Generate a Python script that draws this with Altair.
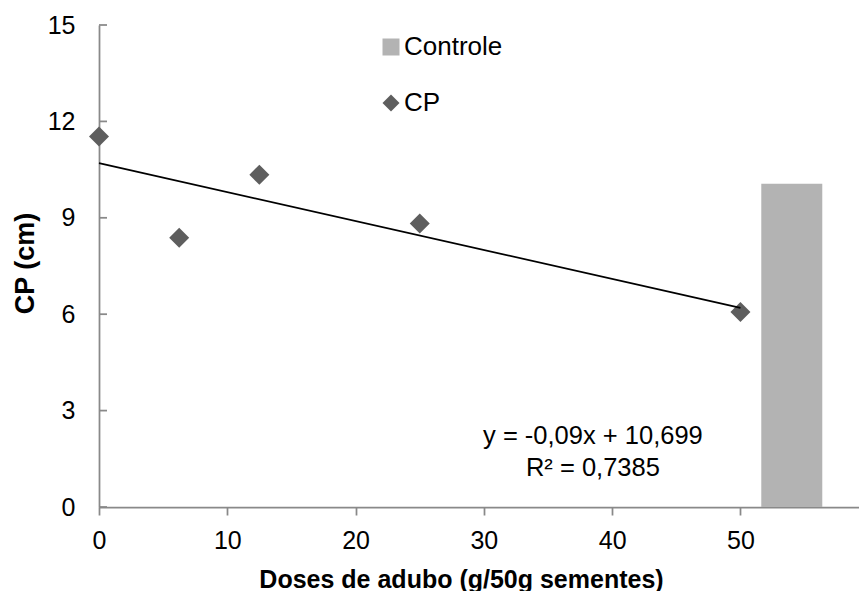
import altair as alt
import pandas as pd

# Doses of fertiliser (g per 50 g of seeds) and measured CP (cm)
doses = [0, 6.25, 12.5, 25, 50]
cp_values = [11.53, 8.38, 10.34, 8.82, 6.07]

# Untreated control, shown as a bar past the last dose
controle_value = 10.06
controle_pos = 54

# Linear trend fitted to the CP series
slope = -0.09
intercept = 10.699
r_squared = 0.7385

x_ticks = [0, 10, 20, 30, 40, 50]
y_ticks = [0, 3, 6, 9, 12, 15]
series_names = ["Controle", "CP"]
series_colors = ["#b3b3b3", "#5e5e5e"]

FONT = "Liberation Sans"
AXIS_GRAY = "#898989"

points_df = pd.DataFrame({"dose": doses, "valor": cp_values, "serie": "CP"})
bar_df = pd.DataFrame({"dose": [controle_pos], "valor": [controle_value], "serie": ["Controle"]})
trend_df = pd.DataFrame({"dose": [min(doses), max(doses)]})
ticks_df = pd.DataFrame({"valor": y_ticks})

eq_text = f"y = {slope:.2f}x + {intercept:.3f}".replace(".", ",")
r2_text = f"R² = {r_squared:.4f}".replace(".", ",")
label_df = pd.DataFrame({"dose": [38.5], "valor": [1.96], "txt": [eq_text + "\n" + r2_text]})

x_scale = alt.Scale(domain=[0, 59.24], nice=False, zero=False, padding=0)
y_scale = alt.Scale(domain=[0, 15], nice=False, padding=0)

x_axis = alt.Axis(
    values=x_ticks, grid=False, tickSize=8, tickColor=AXIS_GRAY, tickWidth=1.75,
    domainColor=AXIS_GRAY, domainWidth=1.75, labelFont=FONT, labelFontSize=25,
    labelColor="black", labelPadding=13, labelFlush=False, labelOverlap=False,
    title="Doses de adubo (g/50g sementes)", titleFont=FONT, titleFontSize=25,
    titleFontWeight="bold", titleColor="black", titleX=362, titleY=80,
    titleAlign="center", titleBaseline="alphabetic",
)
y_axis = alt.Axis(
    values=y_ticks, grid=False, ticks=False, tickSize=0,
    domainColor=AXIS_GRAY, domainWidth=1.75, labelFont=FONT, labelFontSize=25,
    labelColor="black", labelPadding=24, labelFlush=False, labelOverlap=False,
    title="CP (cm)", titleFont=FONT, titleFontSize=27, titleFontWeight="bold",
    titleColor="black", titleX=-66, titleY=238, titleAngle=270,
    titleAlign="center", titleBaseline="alphabetic",
)

X = alt.X("dose:Q", scale=x_scale, axis=x_axis)
Y = alt.Y("valor:Q", scale=y_scale, axis=y_axis)

legend = alt.Legend(
    title=None, orient="none", legendX=279, legendY=9, padding=0,
    labelFont=FONT, labelFontSize=26, labelColor="black", labelOffset=0,
    symbolSize=289, symbolStrokeWidth=0, rowPadding=30,
)
color = alt.Color("serie:N", scale=alt.Scale(domain=series_names, range=series_colors), legend=legend)
shape = alt.Shape("serie:N", scale=alt.Scale(domain=series_names, range=["square", "diamond"]), legend=legend)

bar = alt.Chart(bar_df).mark_bar(size=61).encode(x=X, y=Y, color=color)

pts = alt.Chart(points_df).mark_point(filled=True, size=400, opacity=1).encode(
    x=X, y=Y, color=color, shape=shape
)

trend = alt.Chart(trend_df).transform_calculate(
    valor=f"{intercept} + ({slope}) * datum.dose"
).mark_line(color="black", strokeWidth=1.8).encode(x=X, y=Y)

# y-axis ticks point into the plot area
yticks = alt.Chart(ticks_df).mark_rule(color=AXIS_GRAY, strokeWidth=1.75).encode(
    y=Y, x=alt.value(0), x2=alt.value(8)
)

label = alt.Chart(label_df).mark_text(
    font=FONT, fontSize=25.5, align="center", baseline="alphabetic",
    lineBreak="\n", lineHeight=32, color="black",
).encode(x=X, y=Y, text="txt:N")

chart = (
    alt.layer(bar, yticks, pts, trend, label)
    .properties(
        width=760, height=482,
        autosize=alt.AutoSizeParams(type="none"),
        padding={"left": 99, "top": 25, "right": 0, "bottom": 84},
        background="white",
    )
    .configure_view(stroke=None)
)

chart.save("out.html", embed_options={"renderer": "svg", "actions": False})
